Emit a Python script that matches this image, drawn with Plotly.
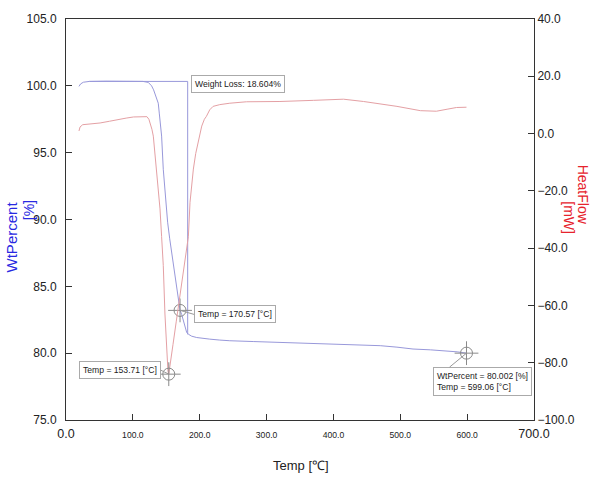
import plotly.graph_objects as go

# ---- data ----
wt_temp = [19.4, 22, 26, 35, 60, 100, 115, 123, 128, 131, 133, 136, 138, 139.5, 141, 143,
           145.5, 147.5, 149.6, 152, 155, 158, 160.5, 164, 168, 170.57, 173, 175.5, 178,
           180.5, 183, 188, 195.5, 205, 215, 230, 245, 280, 320, 360, 395, 430, 470, 495,
           519, 545, 569, 585, 599]
wt_pct = [99.96, 100.15, 100.27, 100.33, 100.35, 100.36, 100.33, 100.26, 100.0, 99.7, 99.44,
          99.1, 98.7, 97.96, 97.2, 96.24, 93.76, 92.5, 91.3, 89.8, 88.6, 87.5, 86.6, 85.4,
          84.13, 83.2, 82.9, 82.4, 81.9, 81.55, 81.42, 81.27, 81.17, 81.1, 81.05, 80.98,
          80.93, 80.87, 80.8, 80.74, 80.68, 80.62, 80.56, 80.45, 80.31, 80.25, 80.19, 80.1, 80.0]

hf_temp = [19.4, 21, 25, 40, 51, 65, 76, 90, 101, 115, 121, 124, 126, 128.5, 130.6, 133,
           135.6, 138, 140.6, 143, 145.5, 148, 150.6, 152.5, 153.7, 155, 157, 160, 165, 170,
           175, 180, 183, 185.5, 188, 190.5, 194, 198, 203, 207, 210, 215, 220, 230, 245,
           270, 320, 370, 415, 445, 470, 495, 530, 554, 570, 584, 599]
heat_flow = [0.9, 2.3, 3.1, 3.4, 3.7, 4.3, 4.85, 5.4, 5.8, 6.0, 5.9, 5.0, 3.7, 1.5, -0.9,
             -6.7, -12.4, -18.2, -26.3, -36, -46, -63, -78, -83, -84, -81.5, -78.2, -73.7,
             -65.5, -57.3, -49.1, -40.9, -36, -24, -17, -12.4, -7, -3.2, 2.6, 5.0, 6.0, 8.3,
             9.5, 10.1, 10.6, 11.1, 11.2, 11.6, 12.0, 11.2, 10.4, 9.5, 8.0, 7.8, 8.5, 9.1, 9.2]

loss_temp = [35, 182, 182]
loss_pct = [100.33, 100.33, 81.4]

x_ticks = [0, 100, 200, 300, 400, 500, 600, 700]
x_tick_labels = ["0.0", "100.0", "200.0", "300.0", "400.0", "500.0", "600.0", "700.0"]

marks = [  # (temp, value, axis)
    (153.71, -84.0, "y2"),
    (170.57, 83.2, "y"),
    (599.06, 80.0, "y"),
]

BLUE_LINE = "rgb(152,152,218)"
RED_LINE = "rgb(228,160,164)"
MARK = "#8a8a8a"
AX = "#333333"
SANS = "Liberation Sans, Arial, sans-serif"

fig = go.Figure()
fig.add_trace(go.Scatter(x=hf_temp, y=heat_flow, yaxis="y2", mode="lines",
                         line=dict(color=RED_LINE, width=1), showlegend=False))
fig.add_trace(go.Scatter(x=wt_temp, y=wt_pct, mode="lines",
                         line=dict(color=BLUE_LINE, width=1), showlegend=False))
fig.add_trace(go.Scatter(x=loss_temp, y=loss_pct, mode="lines",
                         line=dict(color=BLUE_LINE, width=1), showlegend=False))

for t, v, ax in marks:
    fig.add_trace(go.Scatter(x=[t], y=[v], yaxis=ax, mode="markers", showlegend=False,
                             marker=dict(symbol="circle-open", size=12, color=MARK,
                                         line=dict(color=MARK, width=1))))
    fig.add_trace(go.Scatter(x=[t], y=[v], yaxis=ax, mode="markers", showlegend=False,
                             marker=dict(symbol="cross-thin-open", size=17, color=MARK,
                                         line=dict(color=MARK, width=1))))

ticktext = []
for i, lab in enumerate(x_tick_labels):
    if i in (0, len(x_tick_labels) - 1):
        ticktext.append('<span style="font-size:12.5px">' + lab + '</span>')
    else:
        ticktext.append(lab)

box = dict(font=dict(family=SANS, size=8.6, color="#222"), bordercolor="#aaaaaa",
           borderwidth=1, borderpad=3, bgcolor="white", arrowcolor="#999999",
           arrowwidth=1, arrowhead=0, align="left")

annotations = [
    dict(text="Weight Loss: 18.604%", x=258, y=100.15, xref="x", yref="y",
         showarrow=False, xanchor="center", yanchor="middle", **box),
    dict(text="Temp = 170.57 [°C]", x=170.57, y=83.2, xref="x", yref="y",
         showarrow=True, ax=14, ay=4, xanchor="left", yanchor="middle", **box),
    dict(text="Temp = 153.71 [°C]", x=153.71, y=-84.0, xref="x", yref="y2",
         showarrow=True, ax=-8, ay=-4, xanchor="right", yanchor="middle", **box),
    dict(text="WtPercent = 80.002 [%]<br>Temp = 599.06 [°C]", x=599.06, y=80.0,
         xref="x", yref="y", showarrow=True, ax=-34, ay=28, xanchor="left",
         yanchor="middle", **box),
    dict(text="WtPercent", xref="paper", yref="paper", x=-0.116, y=0.457,
         xanchor="center", yanchor="middle",
         showarrow=False, textangle=-90, font=dict(family=SANS, size=15, color="rgb(40,40,225)")),
    dict(text="[%]", xref="paper", yref="paper", x=-0.08, y=0.522,
         xanchor="center", yanchor="middle",
         showarrow=False, textangle=-90, font=dict(family=SANS, size=14, color="rgb(40,40,225)")),
    dict(text="HeatFlow", xref="paper", yref="paper", x=1.1055, y=0.561,
         xanchor="center", yanchor="middle",
         showarrow=False, textangle=90, font=dict(family=SANS, size=14, color="rgb(230,35,45)")),
    dict(text="[mW]", xref="paper", yref="paper", x=1.074, y=0.504,
         xanchor="center", yanchor="middle",
         showarrow=False, textangle=90, font=dict(family=SANS, size=14, color="rgb(230,35,45)")),
    dict(text="Temp [℃]", xref="paper", yref="paper", x=0.503, y=-0.114,
         xanchor="center", yanchor="middle",
         showarrow=False, font=dict(family=SANS, size=13, color="#222")),
]

fig.update_layout(
    width=592, height=478,
    margin=dict(l=66, r=58, t=15, b=58),
    paper_bgcolor="white", plot_bgcolor="white",
    font=dict(family=SANS, size=12, color="#222"),
    xaxis=dict(range=[0, 700], tickvals=x_ticks, ticktext=ticktext, showgrid=False,
               zeroline=False, showline=True, linecolor=AX, linewidth=1, mirror=True,
               ticks="inside", ticklen=6, tickcolor=AX,
               tickfont=dict(family=SANS, size=8.6, color="#222"),
               ticklabelstandoff=7),
    yaxis=dict(range=[75, 105], dtick=5, tickformat=".1f", showgrid=False, zeroline=False,
               showline=True, linecolor=AX, linewidth=1, ticks="inside", ticklen=6,
               tickcolor=AX, tickfont=dict(family=SANS, size=12, color="#222"),
               ticklabelstandoff=6),
    yaxis2=dict(range=[-100, 40], dtick=20, tickformat=".1f", overlaying="y", side="right",
                showgrid=False, zeroline=False, showline=True, linecolor=AX, linewidth=1,
                ticks="inside", ticklen=6, tickcolor=AX,
                tickfont=dict(family=SANS, size=12, color="#222")),
    annotations=annotations,
)

fig.write_html("out.html")
